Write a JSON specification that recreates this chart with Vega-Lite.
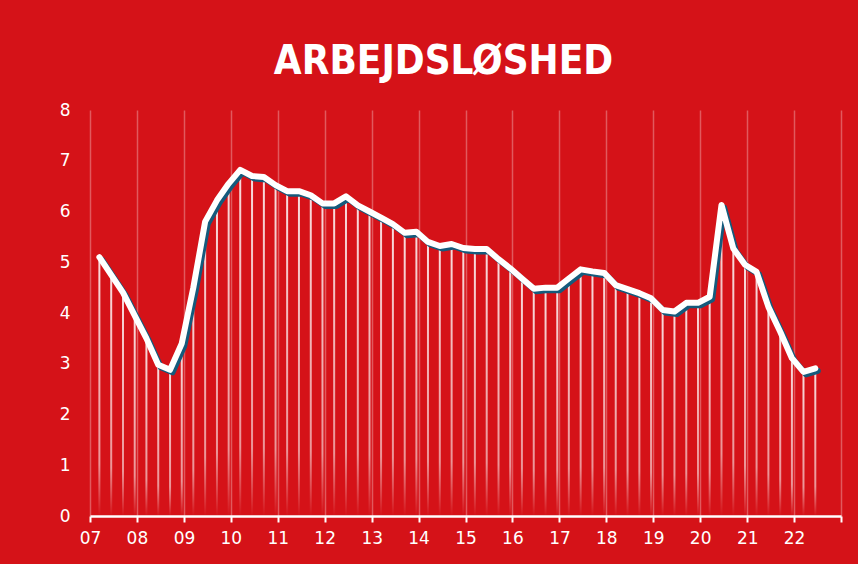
{
  "$schema": "https://vega.github.io/schema/vega-lite/v6.json",
  "width": 751,
  "height": 406,
  "autosize": {"type": "none"},
  "padding": {"left": 90, "top": 110, "right": 17, "bottom": 48},
  "background": "#d51218",
  "title": {
    "text": "ARBEJDSLØSHED",
    "font": "DejaVu Sans Condensed, DejaVu Sans, sans-serif",
    "fontWeight": "bold",
    "fontSize": 40,
    "color": "white",
    "anchor": "middle",
    "frame": "group",
    "baseline": "alphabetic",
    "offset": 35,
    "dx": -22,
    "dy": 48
  },
  "config": {
    "view": {"stroke": null},
    "axis": {"labelFont": "DejaVu Sans", "labelColor": "white", "labelFontSize": 17}
  },
  "data": {"values": [
    {"date": "2007-03-15", "v": 5.1},
    {"date": "2007-06-15", "v": 4.75},
    {"date": "2007-09-15", "v": 4.4},
    {"date": "2007-12-15", "v": 3.95},
    {"date": "2008-03-15", "v": 3.5},
    {"date": "2008-06-15", "v": 2.98},
    {"date": "2008-09-15", "v": 2.88},
    {"date": "2008-12-15", "v": 3.4},
    {"date": "2009-03-15", "v": 4.5},
    {"date": "2009-06-15", "v": 5.8},
    {"date": "2009-09-15", "v": 6.22},
    {"date": "2009-12-15", "v": 6.55},
    {"date": "2010-03-15", "v": 6.82},
    {"date": "2010-06-15", "v": 6.7},
    {"date": "2010-09-15", "v": 6.68},
    {"date": "2010-12-15", "v": 6.52},
    {"date": "2011-03-15", "v": 6.4},
    {"date": "2011-06-15", "v": 6.4},
    {"date": "2011-09-15", "v": 6.32},
    {"date": "2011-12-15", "v": 6.16},
    {"date": "2012-03-15", "v": 6.16},
    {"date": "2012-06-15", "v": 6.3},
    {"date": "2012-09-15", "v": 6.12},
    {"date": "2012-12-15", "v": 6.0},
    {"date": "2013-03-15", "v": 5.88},
    {"date": "2013-06-15", "v": 5.75},
    {"date": "2013-09-15", "v": 5.58},
    {"date": "2013-12-15", "v": 5.6},
    {"date": "2014-03-15", "v": 5.4},
    {"date": "2014-06-15", "v": 5.32},
    {"date": "2014-09-15", "v": 5.36},
    {"date": "2014-12-15", "v": 5.28},
    {"date": "2015-03-15", "v": 5.26},
    {"date": "2015-06-15", "v": 5.26},
    {"date": "2015-09-15", "v": 5.06},
    {"date": "2015-12-15", "v": 4.88},
    {"date": "2016-03-15", "v": 4.68},
    {"date": "2016-06-15", "v": 4.48},
    {"date": "2016-09-15", "v": 4.5},
    {"date": "2016-12-15", "v": 4.5},
    {"date": "2017-03-15", "v": 4.68},
    {"date": "2017-06-15", "v": 4.86},
    {"date": "2017-09-15", "v": 4.82},
    {"date": "2017-12-15", "v": 4.79},
    {"date": "2018-03-15", "v": 4.55},
    {"date": "2018-06-15", "v": 4.47},
    {"date": "2018-09-15", "v": 4.39},
    {"date": "2018-12-15", "v": 4.29},
    {"date": "2019-03-15", "v": 4.06},
    {"date": "2019-06-15", "v": 4.03},
    {"date": "2019-09-15", "v": 4.2},
    {"date": "2019-12-15", "v": 4.2},
    {"date": "2020-03-15", "v": 4.32},
    {"date": "2020-06-15", "v": 6.13},
    {"date": "2020-09-15", "v": 5.27},
    {"date": "2020-12-15", "v": 4.95},
    {"date": "2021-03-15", "v": 4.81},
    {"date": "2021-06-15", "v": 4.12},
    {"date": "2021-09-15", "v": 3.63},
    {"date": "2021-12-15", "v": 3.11},
    {"date": "2022-03-15", "v": 2.84},
    {"date": "2022-06-15", "v": 2.91}
  ]},
  "encoding": {
    "x": {
      "field": "date", "type": "temporal",
      "scale": {"domain": ["2007-01-01", "2023-01-01"], "padding": 0},
      "axis": {
        "title": null,
        "tickCount": {"interval": "year", "step": 1},
        "labelExpr": "year(datum.value) == 2023 ? '' : timeFormat(datum.value, '%y')",
        "grid": true, "gridColor": "white", "gridOpacity": 0.3, "gridWidth": 1.5,
        "domainColor": "white", "domainWidth": 2.5,
        "tickColor": "white", "tickWidth": 2, "tickSize": 6,
        "labelPadding": 8, "labelFlush": false, "labelOverlap": false
      }
    },
    "y": {
      "field": "v", "type": "quantitative",
      "scale": {"domain": [0, 8], "nice": false},
      "axis": {
        "title": null, "values": [0,1,2,3,4,5,6,7,8],
        "grid": false, "domain": false, "ticks": false,
        "labelPadding": 20
      }
    }
  },
  "layer": [
    {
      "mark": {
        "type": "bar", "width": 2,
        "color": {
          "gradient": "linear", "x1": 0, "y1": 0, "x2": 0, "y2": 1,
          "stops": [
            {"offset": 0, "color": "rgba(255,255,255,0.85)"},
            {"offset": 0.8, "color": "rgba(255,255,255,0.55)"},
            {"offset": 1, "color": "rgba(255,255,255,0.0)"}
          ]
        }
      }
    },
    {
      "mark": {"type": "line", "color": "#145a7c", "strokeWidth": 6, "xOffset": 2.5, "yOffset": 2.5, "strokeJoin": "round", "strokeCap": "round"}
    },
    {
      "mark": {"type": "line", "color": "white", "strokeWidth": 6, "strokeJoin": "round", "strokeCap": "round"}
    }
  ]
}
